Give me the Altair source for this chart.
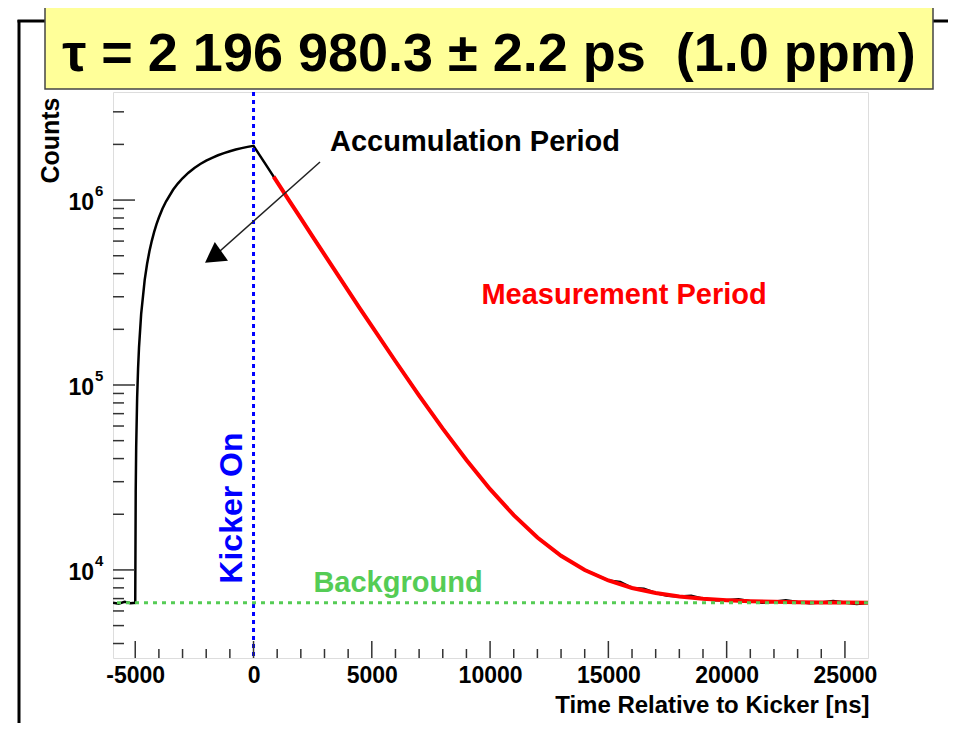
import altair as alt
import pandas as pd

# ---------------- data ----------------
data_t = [-5940, -5700, -5450, -5200, -5000, -4980, -4960, -4920, -4880, -4840, -4750, -4600,
          -4500, -4400, -4300, -4200, -4100, -4000, -3850, -3700, -3400, -3200, -3000, -2750,
          -2500, -2250, -2000, -1750, -1500, -1250, -1000, -750, -500, -250, 0, 250, 500, 850,
          1000, 1500, 2000, 2500, 3000, 3500, 4000, 4500, 5000, 6000, 7000, 8000, 9000, 10000,
          11000, 12000, 13000, 14000, 15000, 15500, 16000, 16500, 17000, 17500, 18000, 18500,
          19000, 19500, 20000, 20500, 21000, 21500, 22000, 22500, 23000, 23500, 24000, 24500,
          25000, 25500, 25975]
data_n = [6650, 6560, 6720, 6600, 6640, 26400, 46000, 84700, 122700, 160000, 241500, 370000,
          451000, 528700, 602000, 673000, 741000, 805000, 897000, 982000, 1136000, 1228000,
          1312000, 1406000, 1491000, 1566000, 1633000, 1693000, 1747000, 1794000, 1837000,
          1875000, 1909000, 1939000, 1966000, 1756000, 1568000, 1338000, 1250000, 997000,
          795500, 635000, 507100, 405000, 324100, 259000, 208100, 134400, 87700, 58100, 39300,
          27300, 19800, 15000, 11900, 9990, 8770, 8600, 7990, 7900, 7500, 7250, 7180, 7250,
          6990, 6850, 6860, 6950, 6780, 6650, 6730, 6850, 6700, 6600, 6675, 6800, 6660, 6550,
          6655]

fit_t = [850, 1000, 1500, 2000, 2500, 3000, 3500, 4000, 4500, 5000, 6000, 7000, 8000, 9000,
         10000, 11000, 12000, 13000, 14000, 15000, 16000, 17000, 18000, 19000, 20000, 21000,
         22000, 23000, 24000, 25000, 25975]
fit_n = [1338000, 1250000, 997000, 795500, 635000, 507100, 405000, 324100, 259000, 208100,
         134400, 87710, 58070, 39270, 27340, 19770, 14970, 11925, 9993, 8767, 7990, 7496,
         7183, 6985, 6859, 6779, 6728, 6696, 6675, 6663, 6655]

background_level = [6640]
kicker_time = [0]

x_major = [-5000, 0, 5000, 10000, 15000, 20000, 25000]
x_minor = [-4000, -3000, -2000, -1000, 1000, 2000, 3000, 4000, 6000, 7000, 8000, 9000,
           11000, 12000, 13000, 14000, 16000, 17000, 18000, 19000, 21000, 22000, 23000, 24000]
y_major = [1e4, 1e5, 1e6]
y_major_exp = ["4", "5", "6"]
y_minor = [4000, 5000, 6000, 7000, 8000, 9000, 2e4, 3e4, 4e4, 5e4, 6e4, 7e4, 8e4, 9e4,
           2e5, 3e5, 4e5, 5e5, 6e5, 7e5, 8e5, 9e5, 2e6, 3e6]

# annotation anchor points in data units
acc_label = ["Accumulation Period"]; acc_t = [9363]; acc_n = [2.06e6]
meas_label = ["Measurement Period"]; meas_t = [15662]; meas_n = [3.064e5]
bkg_label = ["Background"]; bkg_t = [6108]; bkg_n = [8490]
kick_label = ["Kicker On"]; kick_t = [-909]; kick_n = [2.16e4]
arrow_t = [2811, -1704]
arrow_n = [1.606e6, 4.92e5]

title_text = "\u03c4 = 2 196 980.3 \u00b1 2.2 ps \u00a0(1.0 ppm)"

FONT = "Liberation Sans"
W, H = 755, 566

xs = alt.Scale(domain=[-5940, 25975], nice=False, zero=False)
ys = alt.Scale(type="log", domain=[3340, 3.84e6], nice=False)

x_axis = alt.Axis(values=x_major, labelExpr="toString(datum.value)", ticks=False, domain=False,
                  grid=False, labelFontSize=23, labelFont=FONT, labelFontWeight="bold",
                  labelColor="black", labelPadding=6, labelFlush=False,
                  title="Time Relative to Kicker [ns]", titleX=W + 1, titleY=47, titleAlign="right",
                  titleBaseline="middle", titleAnchor="end", titleFontSize=24, titleFont=FONT,
                  titleFontWeight="bold", titleColor="black")
y_axis = alt.Axis(labels=False, ticks=False, domain=False, grid=False,
                  title="Counts", titleX=-63, titleY=5, titleAngle=270, titleAlign="right",
                  titleBaseline="middle", titleFontSize=25, titleFont=FONT,
                  titleFontWeight="bold", titleColor="black")


def X(f):
    return alt.X(f, type="quantitative", scale=xs, axis=x_axis)


def Y(f):
    return alt.Y(f, type="quantitative", scale=ys, axis=y_axis)


one = pd.DataFrame({"k": [0]})

df_data = pd.DataFrame({"t": data_t, "n": data_n})
df_fit = pd.DataFrame({"t": fit_t, "n": fit_n})

data_line = alt.Chart(df_data).mark_line(color="black", strokeWidth=2.5, clip=True).encode(
    x=X("t"), y=Y("n"))
fit_line = alt.Chart(df_fit).mark_line(color="#ff0000", strokeWidth=4, clip=True).encode(
    x=X("t"), y=Y("n"))
kicker = alt.Chart(pd.DataFrame({"t": kicker_time})).mark_rule(
    color="#0000ff", strokeWidth=3, strokeDash=[4, 4]).encode(x=X("t"))
bkg = alt.Chart(pd.DataFrame({"n": background_level})).mark_rule(
    color="#55cc55", strokeWidth=3, strokeDash=[4, 5]).encode(y=Y("n"))

# inward ticks (ROOT style)
tick_col = "#333333"
xt_major = alt.Chart(pd.DataFrame({"t": x_major})).mark_rule(color=tick_col, strokeWidth=1.5).encode(
    x=X("t"), y=alt.value(H), y2=alt.value(H - 17))
xt_minor = alt.Chart(pd.DataFrame({"t": x_minor})).mark_rule(color=tick_col, strokeWidth=1.5).encode(
    x=X("t"), y=alt.value(H), y2=alt.value(H - 9))
yt_major = alt.Chart(pd.DataFrame({"n": y_major})).mark_rule(color=tick_col, strokeWidth=1.5).encode(
    y=Y("n"), x=alt.value(0), x2=alt.value(22))
yt_minor = alt.Chart(pd.DataFrame({"n": y_minor})).mark_rule(color=tick_col, strokeWidth=1.5).encode(
    y=Y("n"), x=alt.value(0), x2=alt.value(11))

df_ylab = pd.DataFrame({"n": y_major, "base": ["10"] * 3, "exp": y_major_exp})
ylab_base = alt.Chart(df_ylab).mark_text(align="right", baseline="middle", fontSize=23,
                                          font=FONT, fontWeight="bold", color="black", dy=3).encode(
    y=Y("n"), x=alt.value(-19), text="base:N")
ylab_exp = alt.Chart(df_ylab).mark_text(align="left", baseline="middle", fontSize=15,
                                         font=FONT, fontWeight="bold", color="black", dy=-9).encode(
    y=Y("n"), x=alt.value(-18), text="exp:N")


def label(lst, ts, ns, color, size, angle=0):
    df = pd.DataFrame({"label": lst, "t": ts, "n": ns})
    return alt.Chart(df).mark_text(align="center", baseline="middle", fontSize=size, font=FONT,
                                   fontWeight="bold", color=color, angle=angle).encode(
        x=X("t"), y=Y("n"), text="label:N")


acc_txt = label(acc_label, acc_t, acc_n, "black", 29)
meas_txt = label(meas_label, meas_t, meas_n, "#ff0000", 29)
bkg_txt = label(bkg_label, bkg_t, bkg_n, "#55cc55", 29)
kick_txt = label(kick_label, kick_t, kick_n, "#0000ff", 32, angle=270)

df_arrow = pd.DataFrame({"t": arrow_t, "n": arrow_n, "o": [0, 1]})
arrow_line = alt.Chart(df_arrow).mark_line(color="#222222", strokeWidth=1.5).encode(
    x=X("t"), y=Y("n"), order="o:Q")
arrow_head = alt.Chart(df_arrow.iloc[[1]]).mark_point(
    shape="triangle-up", filled=True, size=530, angle=235, color="black", opacity=1).encode(
    x=X("t"), y=Y("n"))

# decoration: title box and outer frame lines
title_box = alt.Chart(one).mark_rect(fill="#ffff99", stroke="#444444", strokeWidth=1.5).encode(
    x=alt.value(-68), x2=alt.value(820), y=alt.value(-86), y2=alt.value(-3))
title_txt = alt.Chart(one).mark_text(align="center", baseline="alphabetic", fontSize=54,
                                     font=FONT, fontWeight="bold", color="black").encode(
    x=alt.value(376), y=alt.value(-21), text=alt.value(title_text))
frame_v = alt.Chart(one).mark_rule(color="black", strokeWidth=3).encode(
    x=alt.value(-94), y=alt.value(-72), y2=alt.value(640))
frame_h1 = alt.Chart(one).mark_rule(color="black", strokeWidth=3).encode(
    x=alt.value(-95.5), x2=alt.value(-68), y=alt.value(-71))
frame_h2 = alt.Chart(one).mark_rule(color="black", strokeWidth=3).encode(
    x=alt.value(820), x2=alt.value(840), y=alt.value(-71))

chart = alt.layer(
    data_line, fit_line, kicker, bkg,
    xt_major, xt_minor, yt_major, yt_minor, ylab_base, ylab_exp,
    acc_txt, meas_txt, bkg_txt, kick_txt, arrow_line, arrow_head,
    frame_v, frame_h1, frame_h2, title_box, title_txt,
).properties(
    width=W, height=H,
    autosize=alt.AutoSizeParams(type="none"),
    padding={"left": 105, "top": 84, "right": 80, "bottom": 65},
).configure_view(stroke="#333333", strokeWidth=2).configure(font=FONT)

chart.save("out.html", embed_options={"renderer": "svg", "actions": False})
